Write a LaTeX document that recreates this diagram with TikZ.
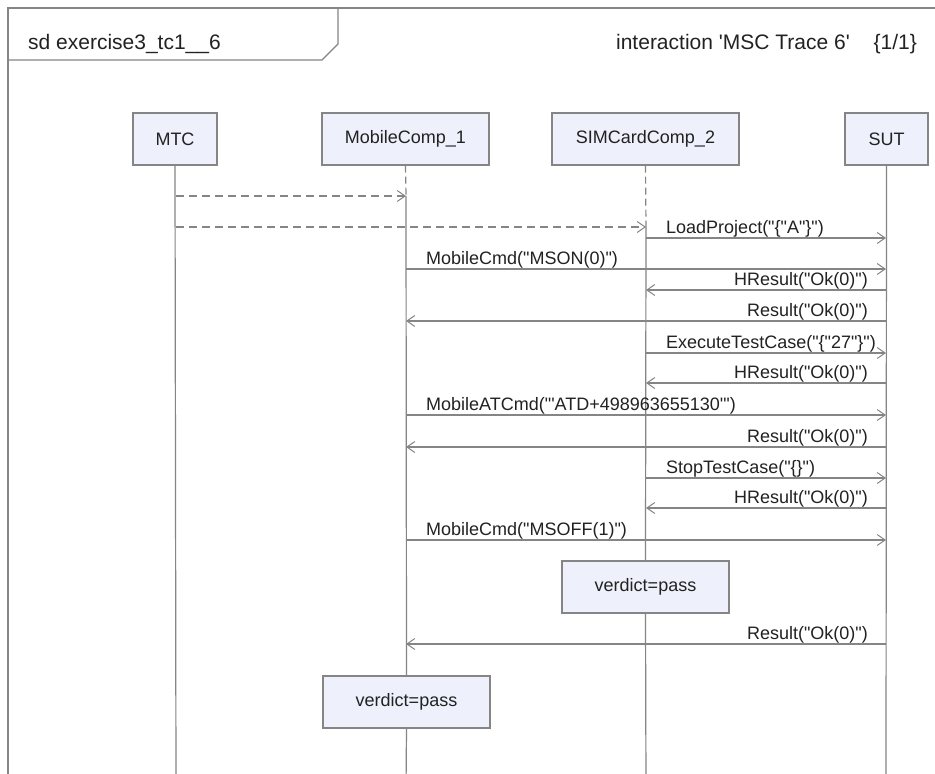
\documentclass[tikz,border=0pt]{standalone}
\usepackage{fontspec}
\newfontfamily\lib{Liberation Sans}
\usetikzlibrary{arrows.meta}
\definecolor{ln}{HTML}{858585}
\definecolor{bx}{HTML}{EEF0FB}
\definecolor{tx}{HTML}{222222}
\begin{document}
\begin{tikzpicture}[x=1pt,y=-1pt,
  every node/.style={font=\lib\fontsize{18}{21}\selectfont, text=tx},
  head/.style={draw=ln, fill=bx, line width=1.2pt, minimum height=52pt, inner sep=0pt},
  life/.style={draw=ln, line width=1.2pt},
  lifedash/.style={life, dash pattern=on 7pt off 4pt},
  msg/.style={draw=ln, line width=1.2pt, -{Straight Barb[length=8pt,width=11pt,line width=1pt]}},
  cre/.style={msg, dash pattern=on 8pt off 5pt},
  lab/.style={inner sep=0pt},
  hdr/.style={inner sep=0pt, font=\lib\fontsize{21}{24}\selectfont},
]
\useasboundingbox (0,0) rectangle (935,774);
\fill[white] (0,0) rectangle (935,774);
% frame
\draw[life] (8,790) -- (8,8) -- (945,8);
\draw[life] (8,60) -- (322,60) -- (338,44) -- (338,8);
\node[hdr, anchor=base west] (title) at (28,49) {sd exercise3\_tc1\_\_6};
\node[hdr, anchor=base east] (inter) at (850,49) {interaction 'MSC Trace 6'};
\node[hdr, anchor=base east] (page) at (917,49) {\{1/1\}};
% heads
\node[head, minimum width=84pt] (mtc) at (175,139) {MTC};
\node[head, minimum width=167pt] (mob) at (405.5,139) {MobileComp\_1};
\node[head, minimum width=187pt] (sim) at (645.5,139) {SIMCardComp\_2};
\node[head, minimum width=83pt] (sut) at (886.5,139) {SUT};
% verdict boxes
\node[head, minimum width=167pt] (v1) at (645.5,587) {verdict=pass};
\node[head, minimum width=167pt] (v2) at (406.5,702) {verdict=pass};
% lifeline coordinates
\coordinate (mtcbot) at (176,790);
\coordinate (sutbot) at (886,790);
\coordinate (mobc) at (406,196);
\coordinate (simc) at (646,227);
\coordinate (mobbot) at (406,790);
\coordinate (simbot) at (646,790);
\coordinate (mtcA) at (176,196);
\coordinate (mtcB) at (176,227);
% lifelines
\draw[life] (mtc.south) -- (mtcbot);
\draw[life] (sut.south) -- (sutbot);
\draw[lifedash] (mob.south) -- (mobc);
\draw[life] (mobc) -- (v2.north);
\draw[life] (v2.south) -- (mobbot);
\draw[lifedash] (sim.south) -- (simc);
\draw[life] (simc) -- (v1.north);
\draw[life] (v1.south) -- (simbot);
% creation
\draw[cre] (mtcA) -- (mobc);
\draw[cre] (mtcB) -- (simc);
% message endpoints
\coordinate (s1) at (646,238);  \coordinate (u1) at (886,238);
\coordinate (m2) at (406,269);  \coordinate (u2) at (886,269);
\coordinate (u3) at (886,290);  \coordinate (s3) at (646,290);
\coordinate (u4) at (886,321);  \coordinate (m4) at (406,321);
\coordinate (s5) at (646,353);  \coordinate (u5) at (886,353);
\coordinate (u6) at (886,383);  \coordinate (s6) at (646,383);
\coordinate (m7) at (406,415);  \coordinate (u7) at (886,415);
\coordinate (u8) at (886,447);  \coordinate (m8) at (406,447);
\coordinate (s9) at (646,478);  \coordinate (u9) at (886,478);
\coordinate (u10) at (886,508); \coordinate (s10) at (646,508);
\coordinate (m11) at (406,540); \coordinate (u11) at (886,540);
\coordinate (u12) at (886,644); \coordinate (m12) at (406,644);
% messages
\draw[msg] (s1) -- (u1);
\draw[msg] (m2) -- (u2);
\draw[msg] (u3) -- (s3);
\draw[msg] (u4) -- (m4);
\draw[msg] (s5) -- (u5);
\draw[msg] (u6) -- (s6);
\draw[msg] (m7) -- (u7);
\draw[msg] (u8) -- (m8);
\draw[msg] (s9) -- (u9);
\draw[msg] (u10) -- (s10);
\draw[msg] (m11) -- (u11);
\draw[msg] (u12) -- (m12);
% labels
\node[lab, anchor=base west] (l1) at (666,233) {LoadProject("\{"A"\}")};
\node[lab, anchor=base west] (l2) at (426,264) {MobileCmd("MSON(0)")};
\node[lab, anchor=base east] (l3) at (868,285) {HResult("Ok(0)")};
\node[lab, anchor=base east] (l4) at (868,316) {Result("Ok(0)")};
\node[lab, anchor=base west] (l5) at (666,348) {ExecuteTestCase("\{"27"\}")};
\node[lab, anchor=base east] (l6) at (868,378) {HResult("Ok(0)")};
\node[lab, anchor=base west] (l7) at (426,410) {MobileATCmd("'ATD+498963655130'")};
\node[lab, anchor=base east] (l8) at (868,442) {Result("Ok(0)")};
\node[lab, anchor=base west] (l9) at (666,473) {StopTestCase("\{\}")};
\node[lab, anchor=base east] (l10) at (868,503) {HResult("Ok(0)")};
\node[lab, anchor=base west] (l11) at (426,535) {MobileCmd("MSOFF(1)")};
\node[lab, anchor=base east] (l12) at (868,639) {Result("Ok(0)")};
\end{tikzpicture}
\end{document}
